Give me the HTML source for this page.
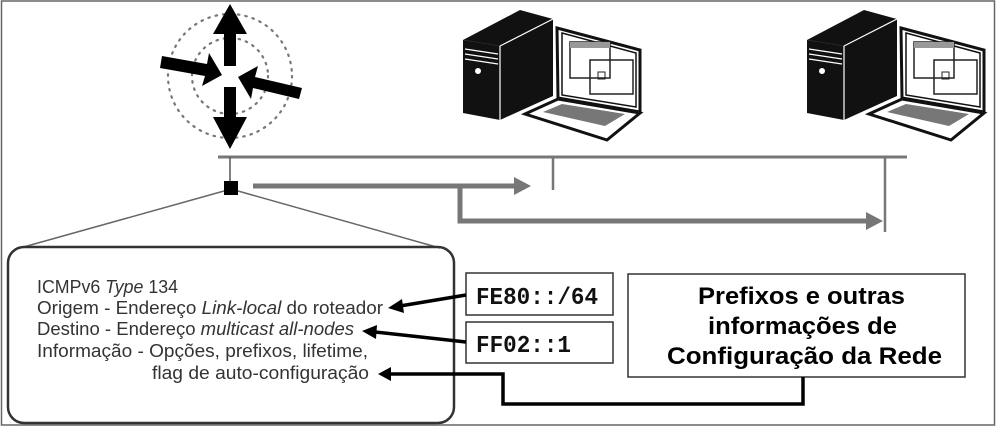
<!DOCTYPE html>
<html><head><meta charset="utf-8"><style>
html,body{margin:0;padding:0;background:#fff}
svg{display:block}
</style></head><body>
<svg width="997" height="427" viewBox="0 0 997 427" xmlns="http://www.w3.org/2000/svg" font-family="Liberation Sans, sans-serif">
<rect x="1.5" y="1" width="993" height="424" fill="#fff" stroke="#666" stroke-width="1.5"/>
<!-- router -->
<g>
<circle cx="230" cy="76" r="62" fill="none" stroke="#777" stroke-width="2.2" stroke-dasharray="1.5 6" stroke-linecap="round"/>
<circle cx="230" cy="76" r="38" fill="none" stroke="#777" stroke-width="2.2" stroke-dasharray="1.5 6" stroke-linecap="round"/>
<polygon points="230,4 247,34 236,34 236,66 224,66 224,34 213,34" fill="#000"/>
<polygon points="230,149 247,117 236,117 236,87 224,87 224,117 213,117" fill="#000"/>
<polygon points="222,75 202,86 205,76 160,68 162,56 207,64 209,53" fill="#000"/>
<polygon points="238,77 258,66 255,77 302,88 299,99 253,88 251,99" fill="#000"/>
</g>
<!-- network bus -->
<line x1="218" y1="157" x2="907" y2="157" stroke="#777" stroke-width="3"/>
<line x1="230" y1="157" x2="230" y2="182" stroke="#555" stroke-width="1.5"/>
<line x1="553" y1="157" x2="553" y2="190" stroke="#777" stroke-width="2.5"/>
<line x1="885" y1="157" x2="885" y2="232" stroke="#777" stroke-width="2.5"/>
<rect x="224" y="181" width="14" height="14" fill="#000"/>
<!-- grey arrows -->
<line x1="253" y1="186" x2="516" y2="186" stroke="#777" stroke-width="5"/>
<polygon points="514,177 531,186 514,195" fill="#777"/>
<polyline points="460,186 460,221 868,221" fill="none" stroke="#777" stroke-width="5"/>
<polygon points="866,212 883,221 866,230" fill="#777"/>
<!-- callout -->
<line x1="224" y1="191" x2="20" y2="248" stroke="#666" stroke-width="1.5"/>
<line x1="238" y1="191" x2="440" y2="248" stroke="#666" stroke-width="1.5"/>
<rect x="8" y="247" width="446" height="176" rx="16" fill="none" stroke="#333" stroke-width="2.5"/>
<g font-size="18" fill="#333" lengthAdjust="spacingAndGlyphs">
<text x="37" y="293" textLength="141" lengthAdjust="spacingAndGlyphs">ICMPv6 <tspan font-style="italic">Type</tspan> 134</text>
<text x="37" y="314" textLength="346" lengthAdjust="spacingAndGlyphs">Origem - Endereço <tspan font-style="italic">Link-local</tspan> do roteador</text>
<text x="37" y="335" textLength="317" lengthAdjust="spacingAndGlyphs">Destino - Endereço <tspan font-style="italic">multicast all-nodes</tspan></text>
<text x="37" y="357" textLength="331" lengthAdjust="spacingAndGlyphs">Informação - Opções, prefixos, lifetime,</text>
<text x="152" y="379" textLength="217" lengthAdjust="spacingAndGlyphs">flag de auto-configuração</text>
</g>
<!-- boxes -->
<rect x="466" y="273" width="147" height="42" fill="#fff" stroke="#333" stroke-width="1.5"/>
<rect x="466" y="322" width="147" height="41" fill="#fff" stroke="#333" stroke-width="1.5"/>
<g font-family="Liberation Mono, monospace" font-weight="bold" font-size="24" fill="#111">
<text x="476" y="304" textLength="122" lengthAdjust="spacingAndGlyphs">FE80::/64</text>
<text x="476" y="352" textLength="95" lengthAdjust="spacingAndGlyphs">FF02::1</text>
</g>
<rect x="628" y="274" width="337" height="103" fill="#fff" stroke="#333" stroke-width="1.5"/>
<g font-weight="bold" font-size="24" fill="#000">
<text x="698" y="304" textLength="207" lengthAdjust="spacingAndGlyphs">Prefixos e outras</text>
<text x="708" y="334" textLength="189" lengthAdjust="spacingAndGlyphs">informações de</text>
<text x="667" y="364" textLength="275" lengthAdjust="spacingAndGlyphs">Configuração da Rede</text>
</g>
<!-- black arrows -->
<line x1="466" y1="295" x2="400" y2="306" stroke="#000" stroke-width="3.5"/>
<polygon points="388,308 402,299 404,313" fill="#000"/>
<line x1="466" y1="342" x2="375" y2="332" stroke="#000" stroke-width="3.5"/>
<polygon points="362,331 377,325 376,339" fill="#000"/>
<polyline points="803,377 803,404 503,404 503,374 390,374" fill="none" stroke="#000" stroke-width="3.5"/>
<polygon points="378,374 391,367 391,381" fill="#000"/>
<!-- computers -->
<defs>
<g id="pc">
<polygon points="463,40 520,10 553,19 500,46" fill="#111"/>
<polygon points="463,40 500,46 500,120 463,113" fill="#111"/>
<polygon points="500,46 553,19 553,96 500,120" fill="#111"/>
<line x1="500" y1="46" x2="500" y2="120" stroke="#fff" stroke-width="1.2"/>
<line x1="500" y1="46" x2="553" y2="19" stroke="#fff" stroke-width="1.2"/>
<line x1="465" y1="49" x2="498" y2="54" stroke="#fff" stroke-width="1.2"/>
<line x1="465" y1="54" x2="498" y2="59" stroke="#fff" stroke-width="1.2"/>
<line x1="465" y1="59" x2="498" y2="64" stroke="#fff" stroke-width="1.2"/>
<circle cx="478" cy="71" r="3" fill="#fff"/>
<polygon points="557,28 640,50 640,112 558,98" fill="#fff" stroke="#111" stroke-width="3"/>
<polygon points="562,33 636,53 636,107 562,95" fill="#fff" stroke="#111" stroke-width="1.5"/>
<rect x="570" y="42" width="40" height="36" fill="none" stroke="#222" stroke-width="1.5"/>
<rect x="590" y="60" width="43" height="34" fill="none" stroke="#222" stroke-width="1.5"/>
<rect x="570" y="42" width="40" height="6" fill="#999"/>
<rect x="598" y="72" width="7" height="7" fill="none" stroke="#222"/>
<polygon points="525,114 558,99 640,113 607,140" fill="#fff" stroke="#111" stroke-width="3"/>
<polygon points="543,112 562,104 625,114 605,126" fill="#777"/>
</g>
</defs>
<use href="#pc"/>
<use href="#pc" transform="translate(344,0)"/>
</svg>
</body></html>
